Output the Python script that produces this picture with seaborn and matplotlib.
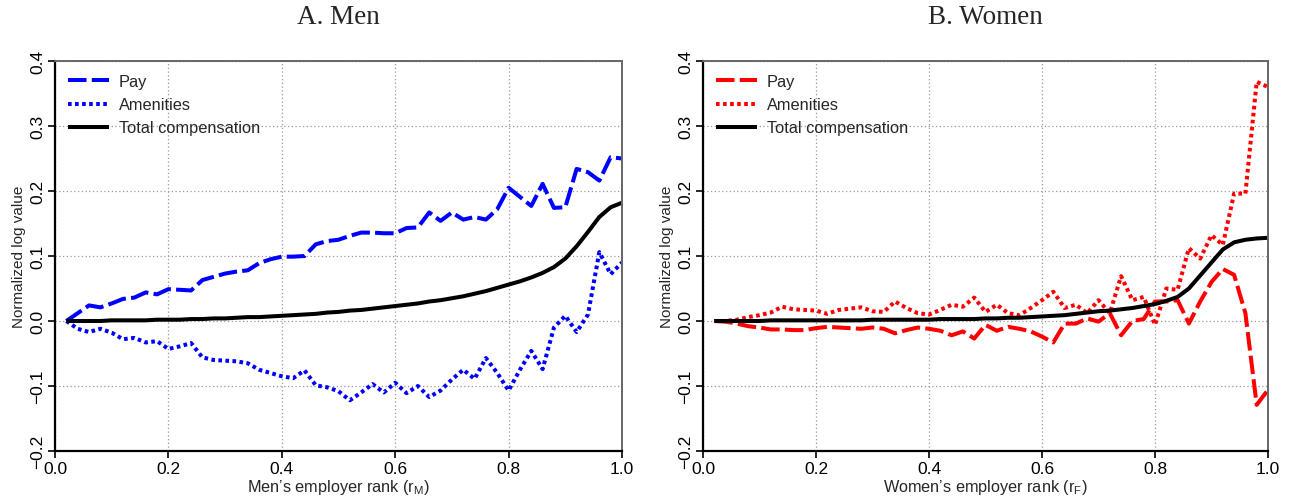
import numpy as np
import pandas as pd
import matplotlib
matplotlib.use("Agg")
import matplotlib.pyplot as plt
import seaborn as sns

# Employer rank grid (0.02 .. 1.00)
rank = np.round(np.arange(1, 51) * 0.02, 2)

# Men
men_pay = [0.000, 0.012, 0.024, 0.021, 0.027, 0.034, 0.036, 0.044, 0.041, 0.049,
           0.048, 0.047, 0.063, 0.068, 0.073, 0.076, 0.078, 0.089, 0.095, 0.099,
           0.099, 0.100, 0.118, 0.123, 0.125, 0.131, 0.136, 0.136, 0.135, 0.135,
           0.143, 0.144, 0.167, 0.154, 0.167, 0.156, 0.160, 0.156, 0.172, 0.205,
           0.191, 0.177, 0.211, 0.174, 0.175, 0.234, 0.229, 0.216, 0.252, 0.250]
men_amen = [0.000, -0.012, -0.017, -0.012, -0.018, -0.028, -0.026, -0.033, -0.031, -0.043,
            -0.039, -0.034, -0.056, -0.060, -0.061, -0.062, -0.065, -0.075, -0.080, -0.085,
            -0.088, -0.076, -0.099, -0.102, -0.108, -0.122, -0.110, -0.097, -0.110, -0.095,
            -0.111, -0.100, -0.117, -0.107, -0.090, -0.075, -0.089, -0.057, -0.080, -0.107,
            -0.075, -0.046, -0.074, -0.010, 0.008, -0.017, 0.010, 0.106, 0.072, 0.090]
men_total = [0.000, 0.000, 0.000, 0.000, 0.001, 0.001, 0.001, 0.001, 0.002, 0.002,
             0.002, 0.003, 0.003, 0.004, 0.004, 0.005, 0.006, 0.006, 0.007, 0.008,
             0.009, 0.010, 0.011, 0.013, 0.014, 0.016, 0.017, 0.019, 0.021, 0.023,
             0.025, 0.027, 0.030, 0.032, 0.035, 0.038, 0.042, 0.046, 0.051, 0.056,
             0.061, 0.067, 0.074, 0.083, 0.096, 0.115, 0.137, 0.160, 0.175, 0.182]

# Women
women_pay = [0.000, -0.001, -0.004, -0.008, -0.010, -0.013, -0.013, -0.014, -0.014, -0.011,
             -0.009, -0.010, -0.011, -0.012, -0.010, -0.012, -0.019, -0.014, -0.010, -0.012,
             -0.015, -0.022, -0.016, -0.027, -0.006, -0.015, -0.009, -0.012, -0.016, -0.024,
             -0.033, -0.004, -0.004, 0.004, -0.001, 0.012, -0.022, 0.000, 0.003, 0.030,
             0.030, 0.032, -0.004, 0.030, 0.060, 0.080, 0.071, 0.012, -0.129, -0.106]
women_amen = [0.000, 0.000, 0.002, 0.006, 0.009, 0.013, 0.022, 0.018, 0.017, 0.016,
              0.011, 0.017, 0.019, 0.021, 0.015, 0.014, 0.030, 0.020, 0.012, 0.010,
              0.017, 0.025, 0.022, 0.036, 0.014, 0.025, 0.012, 0.009, 0.020, 0.032,
              0.045, 0.020, 0.025, 0.012, 0.032, 0.012, 0.069, 0.032, 0.037, -0.006,
              0.050, 0.048, 0.112, 0.096, 0.132, 0.117, 0.196, 0.196, 0.368, 0.360]
women_total = [0.000, 0.000, 0.000, 0.000, 0.000, 0.001, 0.001, 0.001, 0.001, 0.001,
               0.001, 0.001, 0.001, 0.001, 0.002, 0.002, 0.002, 0.002, 0.002, 0.002,
               0.003, 0.003, 0.003, 0.003, 0.004, 0.004, 0.005, 0.005, 0.006, 0.007,
               0.008, 0.009, 0.011, 0.013, 0.015, 0.016, 0.018, 0.020, 0.023, 0.026,
               0.031, 0.037, 0.050, 0.070, 0.090, 0.110, 0.121, 0.125, 0.127, 0.128]

series_names = ["Pay", "Amenities", "Total compensation"]
panel_titles = ["A. Men", "B. Women"]
x_labels = ["Men\u2019s employer rank (r$_\\mathregular{M}$)",
            "Women\u2019s employer rank (r$_\\mathregular{F}$)"]
y_label = "Normalized log value"
x_ticks = [0.0, 0.2, 0.4, 0.6, 0.8, 1.0]
y_ticks = [-0.2, -0.1, 0.0, 0.1, 0.2, 0.3, 0.4]


def long_table(pay, amen, total):
    frames = []
    for name, vals in zip(series_names, [pay, amen, total]):
        frames.append(pd.DataFrame({"rank": rank, "value": vals, "series": name}))
    return pd.concat(frames, ignore_index=True)


sns.set_theme(style="white")
plt.rcParams["font.family"] = ["Liberation Sans", "DejaVu Sans"]
plt.rcParams["mathtext.fontset"] = "custom"
plt.rcParams["mathtext.rm"] = "Liberation Sans"

W, H = 1294, 502
fig = plt.figure(figsize=(W / 100, H / 100), dpi=100)
ax_rects = [
    [55 / W, (H - 452) / H, 567 / W, 390 / H],
    [703 / W, (H - 452) / H, 565 / W, 390 / H],
]

panels = [
    (long_table(men_pay, men_amen, men_total), "#0000ff"),
    (long_table(women_pay, women_amen, women_total), "#ff0000"),
]

dash_map = {"Pay": (4.6, 1.3), "Amenities": (0.9, 0.85), "Total compensation": ""}
LW = 2.9

for i, ((df, col), rect) in enumerate(zip(panels, ax_rects)):
    ax = fig.add_axes(rect)
    palette = {"Pay": col, "Amenities": col, "Total compensation": "black"}
    sns.lineplot(data=df, x="rank", y="value", hue="series", style="series",
                 hue_order=series_names, style_order=series_names,
                 palette=palette, dashes=dash_map, linewidth=LW,
                 ax=ax, legend=True)
    for ln in ax.get_lines():
        ln.set_solid_capstyle("butt")
        ln.set_dash_capstyle("butt")

    ax.set_xlim(0, 1)
    ax.set_ylim(-0.2, 0.4)
    ax.set_xticks(x_ticks)
    ax.set_yticks(y_ticks)
    ax.set_xticklabels([f"{t:.1f}" for t in x_ticks], fontsize=12.5)
    ax.set_yticklabels([f"{t:.1f}".replace("-", "\u2212") for t in y_ticks],
                       fontsize=12.5, rotation=90, va="center")
    ax.grid(True, color="#999999", linestyle=(0, (1, 2)), linewidth=0.9)
    ax.set_axisbelow(True)
    ax.tick_params(axis="both", direction="out", length=5, width=1.2,
                   bottom=True, left=True, top=False, right=False, pad=2,
                   colors="black")
    for side in ["left", "bottom"]:
        ax.spines[side].set_color("black")
        ax.spines[side].set_linewidth(1.6)
    for side in ["top", "right"]:
        ax.spines[side].set_color("#666666")
        ax.spines[side].set_linewidth(1.4)

    ax.set_xlabel(x_labels[i], fontsize=11.7, labelpad=1)
    ax.set_ylabel(y_label, fontsize=11, labelpad=3)
    ax.set_title(panel_titles[i], fontsize=19.5,
                 family=["Liberation Serif", "DejaVu Serif"], pad=27)

    handles, labels = ax.get_legend_handles_labels()
    leg = ax.legend(handles, labels, loc="upper left", frameon=False,
                    fontsize=11.8, handlelength=2.5, handletextpad=0.6,
                    labelspacing=0.5, borderaxespad=0.4,
                    bbox_to_anchor=(0.0, 1.0))
    for h in leg.get_lines():
        h.set_linewidth(LW)

fig.savefig("out.png", dpi=100)
